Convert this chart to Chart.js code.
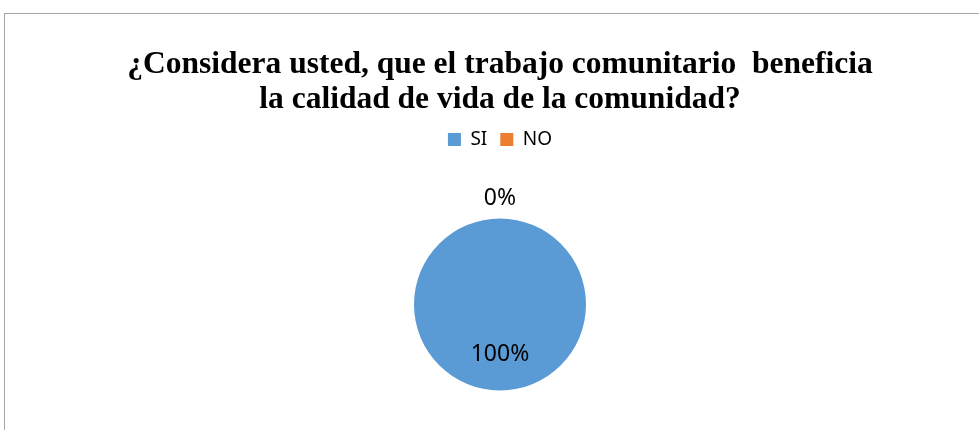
<!DOCTYPE html>
<html>
<head>
<meta charset="utf-8">
<script src="https://cdn.jsdelivr.net/npm/chart.js@4.4.1/dist/chart.umd.min.js"></script>
<style>
    body { margin: 0; background: #fff; }
    #wrap { position: relative; width: 979px; height: 430px; overflow: hidden; }
    #frame { position: absolute; left: 4px; top: 13px; width: 1200px; height: 600px;
        border-top: 1px solid #a6a6a6; border-left: 1px solid #a6a6a6; }
    canvas { position: absolute; left: 0; top: 0; }
</style>
</head>
<body>
<div id="wrap">
    <div id="frame"></div>
    <canvas id="pie-chart" width="1000" height="430"></canvas>
</div>
<script>
const categories = ["SI", "NO"];
const values = [100, 0];
const colors = ["#5B9BD5", "#ED7D31"];
const titleLines = ["¿Considera usted, que el trabajo comunitario  beneficia", "la calidad de vida de la comunidad?"];

// texto de porcentaje sobre cada sector
const pctLabels = {
    id: "pctLabels",
    afterDatasetsDraw: function (chart) {
        const ctx = chart.ctx;
        const meta = chart.getDatasetMeta(0);
        const total = values.reduce((a, b) => a + b, 0);
        ctx.save();
        ctx.font = "23px 'Noto Sans'";
        ctx.fillStyle = "#000";
        ctx.textAlign = "center";
        ctx.textBaseline = "middle";
        meta.data.forEach((arc, i) => {
            const mid = (arc.startAngle + arc.endAngle) / 2;
            const r = values[i] > 0 ? arc.outerRadius * 0.58 : arc.outerRadius + 20;
            const x = arc.x + Math.cos(mid) * r;
            const y = arc.y + Math.sin(mid) * r;
            ctx.fillText(Math.round(values[i] / total * 100) + "%", x, y);
        });
        ctx.restore();
    }
};

// agrandar la leyenda para bajar el área del gráfico
const legendSpace = {
    id: "legendSpace",
    beforeInit: function (chart) {
        const fit = chart.legend.fit;
        chart.legend.fit = function () {
            fit.bind(chart.legend)();
            this.height = 62;
        };
    }
};

new Chart(document.getElementById("pie-chart"), {
    type: "pie",
    data: {
        labels: categories,
        datasets: [
            {
                data: values,
                backgroundColor: colors,
                borderWidth: 0,
                radius: 86,
            },
        ],
    },
    options: {
        responsive: false,
        animation: false,
        layout: { padding: 0 },
        plugins: {
            title: {
                display: true,
                text: titleLines,
                color: "#000",
                font: { family: "'Liberation Serif'", size: 31.5, weight: "bold", lineHeight: "35px" },
                padding: { top: 47, bottom: 0 },
            },
            legend: {
                display: true,
                labels: {
                    boxWidth: 13,
                    boxHeight: 13,
                    padding: 13,
                    color: "#000",
                    font: { family: "'Noto Sans'", size: 19 },
                },
            },
            tooltip: { enabled: false },
        },
    },
    plugins: [pctLabels, legendSpace],
});
</script>
</body>
</html>
